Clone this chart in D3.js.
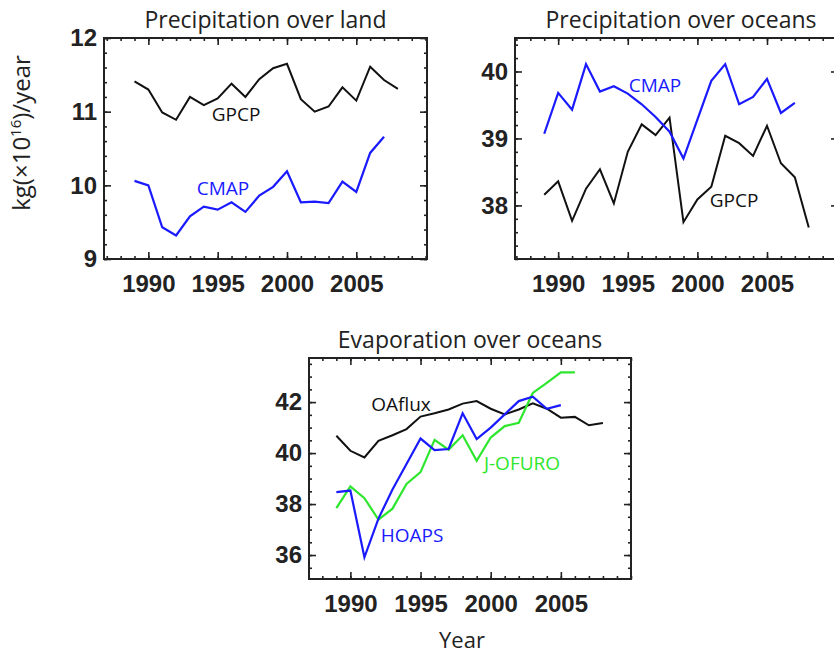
<!DOCTYPE html>
<html>
<head>
<meta charset="utf-8">
<script src="https://cdn.jsdelivr.net/npm/d3@7"></script>
<style>
  html, body { margin: 0; padding: 0; background: #fff; }
  svg { display: block; }
  .tick text { font-family: "Liberation Sans", Arial, sans-serif; font-weight: bold; font-size: 24px; fill: #222; }
  .ttl { font-family: "Open Sans", "Noto Sans", sans-serif; fill: #222; }
</style>
</head>
<body>
<svg id="chart" width="834" height="655"></svg>
<script>
// Annual global water-cycle totals, kg (x10^16) per year
const yearsLong  = [1989,1990,1991,1992,1993,1994,1995,1996,1997,1998,1999,2000,2001,2002,2003,2004,2005,2006,2007,2008];
const yearsCmap  = [1989,1990,1991,1992,1993,1994,1995,1996,1997,1998,1999,2000,2001,2002,2003,2004,2005,2006,2007];
const yearsHoaps = [1989,1990,1991,1992,1993,1994,1995,1996,1997,1998,1999,2000,2001,2002,2003,2004,2005];
const yearsJofuro= [1989,1990,1991,1992,1993,1994,1995,1996,1997,1998,1999,2000,2001,2002,2003,2004,2005,2006];

// Precipitation over land
const landGPCP = [11.41,11.30,10.99,10.89,11.20,11.09,11.18,11.38,11.20,11.44,11.59,11.65,11.17,11.00,11.07,11.33,11.15,11.61,11.43,11.31];
const landCMAP = [10.06,10.00,9.43,9.32,9.58,9.71,9.67,9.77,9.64,9.86,9.98,10.19,9.77,9.78,9.76,10.05,9.91,10.44,10.66];

// Precipitation over oceans
const oceanCMAP = [39.07,39.68,39.43,40.11,39.70,39.78,39.67,39.51,39.32,39.10,38.70,39.28,39.86,40.11,39.51,39.62,39.89,39.38,39.53];
const oceanGPCP = [38.16,38.36,37.77,38.25,38.54,38.03,38.80,39.21,39.05,39.31,37.75,38.09,38.28,39.04,38.93,38.74,39.19,38.63,38.42,37.67];

// Evaporation over oceans
const evapOAflux = [40.68,40.09,39.83,40.48,40.70,40.94,41.43,41.56,41.71,41.94,42.04,41.74,41.52,41.71,41.95,41.74,41.39,41.42,41.09,41.18];
const evapHOAPS  = [38.47,38.53,35.91,37.43,38.57,39.57,40.57,40.12,40.16,41.56,40.55,41.00,41.52,42.04,42.21,41.74,41.88];
const evapJOFURO = [37.84,38.69,38.23,37.39,37.82,38.79,39.25,40.52,40.13,40.70,39.70,40.61,41.06,41.19,42.36,42.75,43.17,43.17];

// Tick values
const yearTicks = [1990, 1995, 2000, 2005];
const landTicks = [9, 10, 11, 12];
const oceanPrTicks = [38, 39, 40];
const evapTicks = [36, 38, 40, 42];

const BLACK = "#111", BLUE = "#1a1aff", GREEN = "#2ee62e";

const svg = d3.select("#chart");

const panels = [
  {
    title: "Precipitation over land",
    x0: 104, x1: 427, y0: 38, y1: 259,
    xDom: [1986.8, 2010.1], yDom: [9, 12],
    yTicks: landTicks, yMinorStep: 0.2,
    series: [
      { years: yearsLong, values: landGPCP, color: BLACK, width: 2 },
      { years: yearsCmap, values: landCMAP, color: BLUE, width: 2.2 }
    ],
    labels: [
      { text: "GPCP", x: 236, y: 121, color: BLACK },
      { text: "CMAP", x: 223, y: 195, color: BLUE }
    ]
  },
  {
    title: "Precipitation over oceans",
    x0: 515, x1: 838, y0: 38, y1: 259,
    xDom: [1986.9, 2010.1], yDom: [37.2, 40.5],
    yTicks: oceanPrTicks, yMinorStep: 0.2,
    series: [
      { years: yearsLong, values: oceanGPCP, color: BLACK, width: 2 },
      { years: yearsCmap, values: oceanCMAP, color: BLUE, width: 2.2 }
    ],
    labels: [
      { text: "CMAP", x: 655, y: 92, color: BLUE },
      { text: "GPCP", x: 734, y: 207, color: BLACK }
    ],
    titleX: 681
  },
  {
    title: "Evaporation over oceans",
    x0: 309, x1: 631, y0: 358, y1: 579,
    xDom: [1987.05, 2010], yDom: [35.06, 43.73],
    yTicks: evapTicks, yMinorStep: 0.5,
    series: [
      { years: yearsLong, values: evapOAflux, color: BLACK, width: 2 },
      { years: yearsJofuro, values: evapJOFURO, color: GREEN, width: 2.2 },
      { years: yearsHoaps, values: evapHOAPS, color: BLUE, width: 2.2 }
    ],
    labels: [
      { text: "OAflux", x: 401, y: 411, color: BLACK },
      { text: "J-OFURO", x: 522, y: 470, color: GREEN },
      { text: "HOAPS", x: 412, y: 542, color: BLUE }
    ]
  }
];

function minorValues(dom, step) {
  const out = [];
  const start = Math.ceil(dom[0] / step - 1e-9) * step;
  for (let v = start; v <= dom[1] + 1e-9; v += step) out.push(+v.toFixed(4));
  return out;
}

function styleAxis(g) {
  g.select(".domain").remove();
  g.selectAll(".tick line").attr("stroke", "#222").attr("stroke-width", 1.6);
}

panels.forEach(p => {
  const x = d3.scaleLinear().domain(p.xDom).range([p.x0, p.x1]);
  const y = d3.scaleLinear().domain(p.yDom).range([p.y1, p.y0]);
  const g = svg.append("g");

  const xMinor = d3.range(Math.ceil(p.xDom[0]), Math.floor(p.xDom[1]) + 1);
  const yMinor = minorValues(p.yDom, p.yMinorStep);

  // bottom axis: labelled majors, yearly minors, all ticks pointing inward
  g.append("g").attr("transform", `translate(0,${p.y1})`)
    .call(d3.axisBottom(x).tickValues(xMinor).tickSize(-3).tickFormat("")).call(styleAxis);
  g.append("g").attr("transform", `translate(0,${p.y1})`)
    .call(d3.axisBottom(x).tickValues(yearTicks).tickSize(-7).tickPadding(16).tickFormat(d3.format("d"))).call(styleAxis);
  // top mirror
  g.append("g").attr("transform", `translate(0,${p.y0})`)
    .call(d3.axisTop(x).tickValues(xMinor).tickSize(-3).tickFormat("")).call(styleAxis);
  g.append("g").attr("transform", `translate(0,${p.y0})`)
    .call(d3.axisTop(x).tickValues(yearTicks).tickSize(-7).tickFormat("")).call(styleAxis);
  // left axis
  g.append("g").attr("transform", `translate(${p.x0},0)`)
    .call(d3.axisLeft(y).tickValues(yMinor).tickSize(-3).tickFormat("")).call(styleAxis);
  g.append("g").attr("transform", `translate(${p.x0},0)`)
    .call(d3.axisLeft(y).tickValues(p.yTicks).tickSize(-7).tickPadding(7).tickFormat(d3.format("d"))).call(styleAxis);
  // right mirror
  g.append("g").attr("transform", `translate(${p.x1},0)`)
    .call(d3.axisRight(y).tickValues(yMinor).tickSize(-3).tickFormat("")).call(styleAxis);
  g.append("g").attr("transform", `translate(${p.x1},0)`)
    .call(d3.axisRight(y).tickValues(p.yTicks).tickSize(-7).tickFormat("")).call(styleAxis);

  g.selectAll(".tick text").attr("fill", "#222");

  // frame
  g.append("rect")
    .attr("x", p.x0).attr("y", p.y0)
    .attr("width", p.x1 - p.x0).attr("height", p.y1 - p.y0)
    .attr("fill", "none").attr("stroke", "#222").attr("stroke-width", 2);

  // data lines
  const line = d3.line().x(d => x(d[0])).y(d => y(d[1]));
  p.series.forEach(s => {
    g.append("path")
      .datum(s.years.map((yr, i) => [yr, s.values[i]]))
      .attr("d", line)
      .attr("fill", "none")
      .attr("stroke", s.color)
      .attr("stroke-width", s.width)
      .attr("stroke-linejoin", "miter");
  });

  // series names
  p.labels.forEach(l => {
    g.append("text").attr("class", "ttl")
      .attr("x", l.x).attr("y", l.y)
      .attr("text-anchor", "middle")
      .attr("font-size", 19)
      .style("fill", l.color)
      .text(l.text);
  });

  // panel title
  g.append("text").attr("class", "ttl")
    .attr("x", p.titleX || (p.x0 + p.x1) / 2)
    .attr("y", p.y0 - 10)
    .attr("text-anchor", "middle")
    .attr("font-size", 23)
    .text(p.title);
});

// shared y-axis title
const yt = svg.append("text").attr("class", "ttl")
  .attr("transform", "translate(30,133) rotate(-90)")
  .attr("text-anchor", "middle")
  .attr("font-size", 24);
yt.append("tspan").text("kg(\u00D710");
yt.append("tspan").attr("font-size", 15).attr("dy", -9).text("16");
yt.append("tspan").attr("dy", 9).text(")/year");

// shared x-axis title
svg.append("text").attr("class", "ttl")
  .attr("x", 462).attr("y", 648)
  .attr("text-anchor", "middle")
  .attr("font-size", 22)
  .text("Year");
</script>
</body>
</html>
